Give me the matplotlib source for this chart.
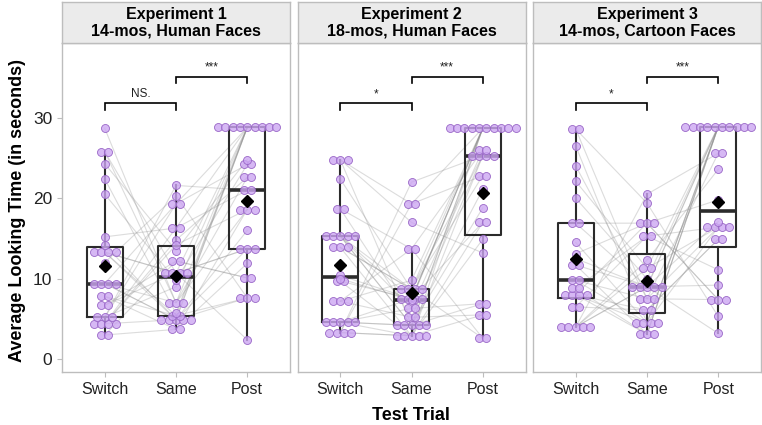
import matplotlib
matplotlib.use("Agg")
import matplotlib.pyplot as plt
from collections import Counter

plt.rcParams['font.family'] = ['Liberation Sans', 'DejaVu Sans']

conditions = ['Switch', 'Same', 'Post']
panel_titles = ['Experiment 1\n14-mos, Human Faces',
                'Experiment 2\n18-mos, Human Faces',
                'Experiment 3\n14-mos, Cartoon Faces']
left_labels = ['NS.', '*', '*']
right_labels = ['***', '***', '***']

# looking times (seconds), one entry per infant, same order across trials
exp1_switch = [9.4, 25.8, 4.4, 13.3, 5.2, 28.7, 7.8, 3.0, 14.2, 9.4, 6.7, 22.4, 4.4, 13.3, 5.2,
               12.0, 9.4, 24.3, 4.4, 13.3, 3.0, 15.2, 7.8, 6.7, 20.5, 9.4, 5.2, 25.8, 4.4, 13.3]
exp1_same = [4.9, 10.7, 16.3, 5.4, 21.6, 7.0, 3.7, 12.2, 4.9, 19.3, 10.7, 5.7, 14.8, 4.9, 9.0,
             20.3, 7.0, 13.5, 4.9, 10.7, 3.7, 16.3, 5.4, 12.2, 9.8, 4.9, 19.3, 7.0, 14.2, 10.7]
exp1_post = [28.8, 13.7, 28.8, 7.6, 21.0, 28.8, 18.6, 10.1, 28.8, 24.2, 2.4, 28.8, 22.6, 16.0, 28.8,
             7.6, 18.6, 24.8, 13.7, 28.8, 11.9, 21.0, 28.8, 10.1, 24.2, 7.6, 28.8, 22.6, 18.6, 13.7]

exp2_switch = [15.3, 4.6, 24.8, 3.3, 10.4, 13.9, 7.2, 15.3, 4.6, 22.4, 3.3, 9.7, 18.7, 4.6, 15.3,
               24.8, 7.2, 3.3, 13.9, 10.0, 4.6, 15.3, 18.7, 9.7, 3.3, 24.8, 7.2, 13.9, 4.6, 15.3]
exp2_same = [8.7, 2.9, 4.2, 22.0, 7.5, 2.9, 13.7, 4.2, 6.3, 8.7, 19.3, 2.9, 5.2, 7.5, 4.2,
             17.0, 9.8, 2.9, 8.7, 7.3, 4.2, 6.3, 13.7, 7.5, 2.9, 19.3, 5.2, 8.7, 4.2, 7.5]
exp2_post = [28.7, 28.7, 6.9, 25.3, 28.7, 17.0, 2.6, 28.7, 26.0, 22.8, 28.7, 5.5, 25.3, 28.7, 18.8,
             13.2, 28.7, 25.3, 2.6, 28.7, 21.1, 6.9, 26.0, 28.7, 14.9, 22.8, 5.5, 25.3, 28.7, 17.0]

exp3_switch = [4.0, 16.9, 8.0, 28.6, 9.8, 4.0, 11.7, 22.1, 8.0, 6.5, 26.5, 4.0, 8.8, 13.1,
               9.8, 20.0, 8.0, 4.0, 12.5, 28.6, 6.5, 11.7, 8.8, 24.0, 4.0, 14.5, 8.0, 16.9]
exp3_same = [9.0, 16.9, 3.1, 7.5, 4.5, 20.5, 9.0, 11.3, 6.1, 15.3, 4.5, 9.0, 3.1, 16.9,
             7.5, 10.0, 4.5, 12.3, 9.0, 19.4, 6.1, 3.1, 15.3, 7.5, 11.3, 4.5, 16.9, 9.0]
exp3_post = [28.9, 7.4, 28.9, 16.4, 28.9, 25.6, 3.2, 28.9, 14.9, 16.4, 28.9, 9.2, 28.9, 19.8,
             7.4, 28.9, 16.4, 23.6, 28.9, 5.3, 14.9, 28.9, 11.1, 25.6, 16.4, 28.9, 7.4, 17.1]

experiments = [
    [exp1_switch, exp1_same, exp1_post],
    [exp2_switch, exp2_same, exp2_post],
    [exp3_switch, exp3_same, exp3_post],
]

W, H = 762, 425
fig = plt.figure(figsize=(W / 100, H / 100), dpi=100)

panel_left = [62, 297.5, 533]
panel_w = 228
panel_top, panel_bot = 43, 372
strip_top = 2

dot_face = (0.80, 0.65, 0.95, 0.8)
dot_edge = (0.60, 0.40, 0.78)
box_col = '#2B2B2B'
border = '#BDBDBD'
dot_step = 0.1025


def bracket(ax, x0, x1, y, label):
    ax.plot([x0, x0, x1, x1], [y - 0.8, y, y, y - 0.8], color='black', lw=1.2,
            solid_joinstyle='miter', zorder=6)
    ax.text((x0 + x1) / 2, y + 0.4, label, ha='center', va='bottom', fontsize=8.5,
            color='#222222')


for i, data in enumerate(experiments):
    ax = fig.add_axes([panel_left[i] / W, (H - panel_bot) / H,
                       panel_w / W, (panel_bot - panel_top) / H])
    xs = range(len(conditions))

    # paired lines per infant
    for k in range(len(data[0])):
        ax.plot(xs, [data[c][k] for c in xs], color='#8C8C8C', alpha=0.3, lw=0.8, zorder=1)

    ax.boxplot(data, positions=list(xs), widths=0.5, whis=1.5, showfliers=False,
               patch_artist=False,
               boxprops=dict(color=box_col, lw=1.5),
               whiskerprops=dict(color=box_col, lw=1.5),
               capprops=dict(lw=0),
               medianprops=dict(color=box_col, lw=2.6),
               zorder=3)

    # stacked dots (dotplot style)
    for c in xs:
        counts = Counter(data[c])
        px, py = [], []
        for v, n in counts.items():
            for j in range(n):
                px.append(c + (j - (n - 1) / 2) * dot_step)
                py.append(v)
        ax.scatter(px, py, s=33, facecolor=dot_face, edgecolor=dot_edge, linewidth=0.6,
                   zorder=4)
        mean = sum(data[c]) / len(data[c])
        ax.plot([c], [mean], marker='D', color='black', markersize=6.5, zorder=5)

    bracket(ax, 0, 1, 31.8, left_labels[i])
    bracket(ax, 1, 2, 35.1, right_labels[i])

    ax.set_xlim(-0.6, 2.6)
    ax.set_ylim(-1.6, 39.3)
    ax.set_xticks(list(xs))
    ax.set_xticklabels(conditions)
    ax.set_yticks([0, 10, 20, 30])
    for s in ax.spines.values():
        s.set_color(border)
        s.set_linewidth(1.0)
    ax.tick_params(colors=border, labelcolor='#222222', length=3.5, width=0.8)
    ax.tick_params(axis='x', labelsize=11.5)
    ax.tick_params(axis='y', labelsize=12.5)
    if i > 0:
        ax.tick_params(axis='y', left=False, labelleft=False)

    sax = fig.add_axes([panel_left[i] / W, (H - panel_top) / H,
                        panel_w / W, (panel_top - strip_top) / H])
    sax.set_facecolor('#EBEBEB')
    sax.set_xticks([])
    sax.set_yticks([])
    for s in sax.spines.values():
        s.set_color(border)
        s.set_linewidth(1.0)
    sax.text(0.5, 0.5, panel_titles[i], ha='center', va='center', fontsize=11.5,
             fontweight='bold', linespacing=1.15, transform=sax.transAxes)

fig.text(18 / W, (H - 210) / H, 'Average Looking Time (in seconds)', rotation=90,
         ha='center', va='center', fontsize=13, fontweight='bold')
fig.text(411 / W, (H - 416) / H, 'Test Trial', ha='center', va='center', fontsize=13,
         fontweight='bold')

fig.savefig('out.png', dpi=100)
plt.close()
